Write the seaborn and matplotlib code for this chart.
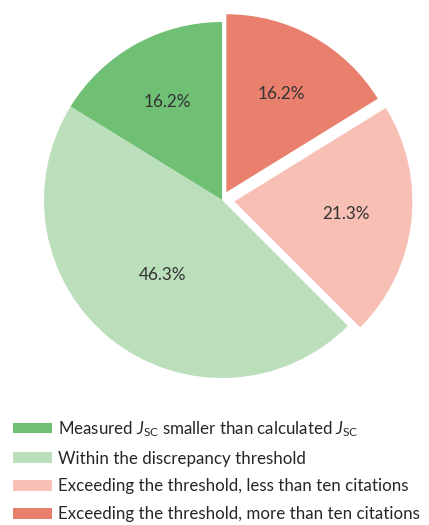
import matplotlib
matplotlib.use("Agg")
import matplotlib.pyplot as plt
import seaborn as sns
from matplotlib.patches import Patch

sns.set_theme(style="white")
plt.rcParams['font.family'] = ['Lato', 'DejaVu Sans']
plt.rcParams['mathtext.fontset'] = 'custom'
plt.rcParams['mathtext.rm'] = 'Lato'
plt.rcParams['mathtext.it'] = 'Lato:italic'

categories = [
    r"Measured $J_{\rm SC}$ smaller than calculated $J_{\rm SC}$",
    "Within the discrepancy threshold",
    "Exceeding the threshold, less than ten citations",
    "Exceeding the threshold, more than ten citations",
]
values = [16.2, 46.3, 21.3, 16.2]
colors = ["#6fbf74", "#bbdfbb", "#f8bfb5", "#e9806d"]
explode = [0, 0, 0.07, 0.05]

fig = plt.figure(figsize=(4.29, 5.25), dpi=100)
W, H = 429, 525
size = 2.2 * 178
cx, cy = 222, 200
ax = fig.add_axes([(cx - size / 2) / W, (H - cy - size / 2) / H, size / W, size / H])

wedges, texts, autotexts = ax.pie(
    values, colors=colors, explode=explode, startangle=90, counterclock=True,
    autopct="%.1f%%", pctdistance=0.63,
    wedgeprops=dict(linewidth=0),
    textprops=dict(fontsize=12.3, color="#333333"),
)
# pull the large slice label slightly toward the centre
x, y = autotexts[1].get_position()
autotexts[1].set_position((x * 0.85, y * 0.85))
ax.set_xlim(-1.1, 1.1)
ax.set_ylim(-1.1, 1.1)
ax.set_aspect("equal")
ax.axis("off")

handles = [Patch(facecolor=c, edgecolor="none") for c in colors]
fig.legend(handles, categories, loc="upper left", bbox_to_anchor=(13 / W, 1 - 419 / H),
           frameon=False, fontsize=12.2, handlelength=2.3, handleheight=0.6,
           handletextpad=0.35, labelspacing=0.7, borderaxespad=0, borderpad=0)

fig.savefig("out.png", dpi=100)
